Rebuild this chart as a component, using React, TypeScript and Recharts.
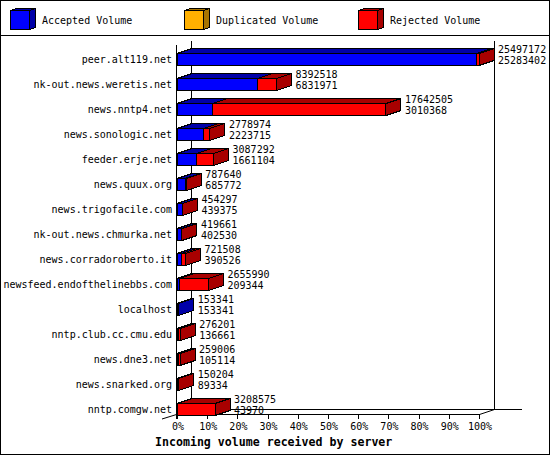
import React from "react";
import { BarChart, Bar, XAxis, YAxis, Legend, LabelList, Customized } from "recharts";

// news servers, top to bottom
const servers = [
  "peer.alt119.net",
  "nk-out.news.weretis.net",
  "news.nntp4.net",
  "news.sonologic.net",
  "feeder.erje.net",
  "news.quux.org",
  "news.trigofacile.com",
  "nk-out.news.chmurka.net",
  "news.corradoroberto.it",
  "newsfeed.endofthelinebbs.com",
  "localhost",
  "nntp.club.cc.cmu.edu",
  "news.dne3.net",
  "news.snarked.org",
  "nntp.comgw.net",
];

// volumes in bytes (upper number = total, lower = accepted)
const totalVolume = [
  25497172, 8392518, 17642505, 2778974, 3087292, 787640, 454297, 419661,
  721508, 2655990, 153341, 276201, 259006, 150204, 3208575,
];
const acceptedVolume = [
  25283402, 6831971, 3010368, 2223715, 1661104, 685772, 439375, 402530,
  390526, 209344, 153341, 136661, 105114, 89334, 43970,
];
const duplicatedVolume = [0, 0, 0, 0, 0, 0, 0, 0, 0, 0, 0, 0, 0, 0, 0];

const percentTicks = [0, 10, 20, 30, 40, 50, 60, 70, 80, 90, 100];

const seriesKeys = ["accepted", "duplicated", "rejected"];
const seriesNames = ["Accepted Volume", "Duplicated Volume", "Rejected Volume"];

const FILL: Record<string, string> = {
  accepted: "#0000ff",
  duplicated: "#ffb000",
  rejected: "#ff0000",
};
const DARK: Record<string, string> = {
  accepted: "#0000a8",
  duplicated: "#a87400",
  rejected: "#a80000",
};

const maxVolume = Math.max(...totalVolume);
const data = servers.map((name, i) => ({
  name,
  accepted: (acceptedVolume[i] / maxVolume) * 100,
  duplicated: (duplicatedVolume[i] / maxVolume) * 100,
  rejected:
    ((totalVolume[i] - acceptedVolume[i] - duplicatedVolume[i]) / maxVolume) * 100,
  numbers: `${totalVolume[i]}\n${acceptedVolume[i]}`,
}));

// layout
const W = 550;
const H = 455;
const LEGEND_H = 36;
const Y_AXIS_W = 177;
const X_AXIS_H = 33.5;
const MARGIN = { top: 46.5 - LEGEND_H, right: 71, bottom: 0, left: 0 };
const PL = MARGIN.left + Y_AXIS_W;
const PR = W - MARGIN.right;
const PT = MARGIN.top + LEGEND_H;
const PB = H - MARGIN.bottom - X_AXIS_H;
const DX = 15; // 3d depth
const DY = 5;
const FLOOR = PB - 7;
const BACK_FLOOR = FLOOR - DY;
const WALL_TOP = PT - 6;

const MONO = "'DejaVu Sans Mono', 'Liberation Mono', monospace";

function Box3D(props: any) {
  const { x, y, width, height, fill, dark } = props;
  if (!(width > 0.05)) return null;
  const x1 = x + width;
  const y1 = y + height;
  return (
    <g stroke="#000" strokeWidth={1} shapeRendering="crispEdges">
      <rect x={x} y={y} width={width} height={height} fill={fill} />
      <polygon
        points={`${x},${y} ${x + DX},${y - DY} ${x1 + DX},${y - DY} ${x1},${y}`}
        fill={dark}
      />
      <polygon
        points={`${x1},${y} ${x1 + DX},${y - DY} ${x1 + DX},${y1 - DY} ${x1},${y1}`}
        fill={dark}
      />
    </g>
  );
}

const renderNumbers = (props: any) => {
  const { x, y, width, height, value } = props;
  const [top, bottom] = String(value).split("\n");
  const tx = Number(x) + Number(width) + DX + 4;
  const cy = Number(y) + Number(height) / 2;
  return (
    <g fontFamily={MONO} fontSize={10} fill="#000">
      <text x={tx} y={cy - 10} dy="0.36em">
        {top}
      </text>
      <text x={tx} y={cy + 1} dy="0.36em">
        {bottom}
      </text>
    </g>
  );
};

const renderLegend = (props: any) => {
  const { payload = [] } = props;
  return (
    <svg width={W} height={LEGEND_H} style={{ display: "block" }}>
      {payload.map((entry: any, i: number) => {
        const bx = 10.5 + i * 174;
        const by = 10.5;
        const s = 19;
        const d = 6;
        const e = 2;
        const dark = DARK[entry.dataKey] || "#000";
        return (
          <g key={entry.value}>
            <g stroke="#000" strokeWidth={1} shapeRendering="crispEdges">
              <polygon
                points={`${bx},${by} ${bx + d},${by - e} ${bx + s + d},${by - e} ${bx + s},${by}`}
                fill={dark}
              />
              <polygon
                points={`${bx + s},${by} ${bx + s + d},${by - e} ${bx + s + d},${by + s - e} ${bx + s},${by + s}`}
                fill={dark}
              />
              <rect x={bx} y={by} width={s} height={s} fill={entry.color} />
            </g>
            <text
              x={bx + 31.5}
              y={20}
              dy="0.36em"
              fontFamily={MONO}
              fontSize={10}
              fill="#000"
            >
              {entry.value}
            </text>
          </g>
        );
      })}
      <line x1={0} x2={W} y1={35.5} y2={35.5} stroke="#000" shapeRendering="crispEdges" />
    </svg>
  );
};

const PercentTick = (props: any) => {
  const { x, payload } = props;
  const tx = Math.round(x) + 0.5;
  return (
    <g>
      <line x1={tx} x2={tx} y1={FLOOR} y2={FLOOR + 4.5} stroke="#000" shapeRendering="crispEdges" />
      <text
        x={x + 1}
        y={PB + 5}
        dy="0.36em"
        textAnchor="middle"
        fontFamily={MONO}
        fontSize={10}
        fill="#000"
      >
        {`${payload.value}%`}
      </text>
    </g>
  );
};

const BackWall = () => (
  <g stroke="#000" strokeWidth={1} shapeRendering="crispEdges">
    <line x1={PL + DX - 0.5} x2={PL + DX - 0.5} y1={WALL_TOP} y2={BACK_FLOOR} />
    <line x1={PR + DX + 0.5} x2={PR + DX + 0.5} y1={WALL_TOP} y2={BACK_FLOOR} />
    <line x1={PL + DX - 0.5} x2={PR + DX + 28} y1={BACK_FLOOR} y2={BACK_FLOOR} />
  </g>
);

const FrontFrame = () => (
  <g>
    <g stroke="#000" strokeWidth={1} shapeRendering="crispEdges">
      <line x1={PL - 0.5} x2={PL - 0.5} y1={PT - 1.5} y2={FLOOR + 4.5} />
      <line x1={PL - 0.5} x2={PR + 0.5} y1={FLOOR} y2={FLOOR} />
    </g>
    <g stroke="#000" strokeWidth={1}>
      <line x1={PL - DX} y1={FLOOR + 4.5} x2={PL - 0.5} y2={FLOOR} />
      <line x1={PR + 0.5} y1={FLOOR} x2={PR + DX + 0.5} y2={BACK_FLOOR} />
    </g>
    <text
      x={155}
      y={442}
      dy="0.36em"
      fontFamily={MONO}
      fontWeight="bold"
      fontSize={11.6}
      fill="#000"
    >
      Incoming volume received by server
    </text>
  </g>
);

export default function App() {
  return (
    <div
      style={{
        position: "absolute",
        left: 0,
        top: 0,
        width: W,
        height: H,
        background: "#fff",
      }}
    >
      <BarChart
        width={W}
        height={H}
        data={data}
        layout="vertical"
        margin={MARGIN}
        barSize={12}
      >
        <Customized component={<BackWall />} />
        <Legend
          verticalAlign="top"
          content={renderLegend}
          wrapperStyle={{ left: 0, top: 0, width: W, height: LEGEND_H }}
        />
        <XAxis
          type="number"
          domain={[0, 100]}
          ticks={percentTicks}
          interval={0}
          axisLine={false}
          tickLine={false}
          tickSize={0}
          tickMargin={0}
          height={X_AXIS_H}
          tick={<PercentTick />}
        />
        <YAxis
          type="category"
          dataKey="name"
          width={Y_AXIS_W}
          interval={0}
          axisLine={false}
          tickLine={false}
          tickSize={0}
          tickMargin={5}
          tick={{ fontSize: 10, fontFamily: MONO, fill: "#000" }}
        />
        {seriesKeys.map((key, i) => (
          <Bar
            key={key}
            dataKey={key}
            name={seriesNames[i]}
            stackId="volume"
            fill={FILL[key]}
            isAnimationActive={false}
            shape={(p: any) => <Box3D {...p} dark={DARK[key]} />}
          >
            {key === "rejected" && (
              <LabelList dataKey="numbers" content={renderNumbers} />
            )}
          </Bar>
        ))}
        <Customized component={<FrontFrame />} />
      </BarChart>
      <div
        style={{
          position: "absolute",
          left: 0,
          top: 0,
          width: W,
          height: H,
          border: "1px solid #000",
          boxSizing: "border-box",
          pointerEvents: "none",
        }}
      />
    </div>
  );
}
